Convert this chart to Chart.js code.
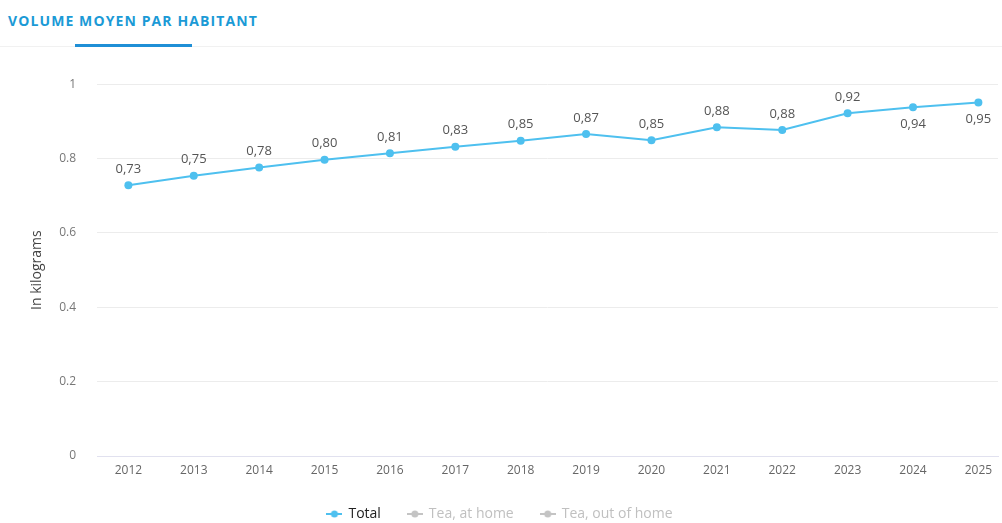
<!DOCTYPE html>
<html>
<head>
<meta charset="utf-8">
<script src="https://cdn.jsdelivr.net/npm/chart.js@4"></script>
<style>
  body { margin: 0; background: #fff; font-family: "Open Sans", sans-serif; }
  #wrap { position: relative; width: 1002px; height: 523px; overflow: hidden; }
  #title { position: absolute; left: 8px; top: 11px; font-size: 14px; font-weight: 700; color: #1b9ad6; letter-spacing: 1.1px; }
  #rule { position: absolute; left: 0; top: 46px; width: 1002px; height: 1px; background: #f1f1f1; }
  #tab { position: absolute; left: 75px; top: 44px; width: 117px; height: 3px; background: #1f8fd6; }
  #chartBox { position: absolute; left: 0; top: 56px; width: 1002px; height: 475px; }
</style>
</head>
<body>
<div id="wrap">
  <div id="title">VOLUME MOYEN PAR HABITANT</div>
  <div id="rule"></div>
  <div id="tab"></div>
  <div id="chartBox"><canvas id="chart"></canvas></div>
</div>
<script>
// Values
const years = [2012, 2013, 2014, 2015, 2016, 2017, 2018, 2019, 2020, 2021, 2022, 2023, 2024, 2025];
const totalValues = [0.73, 0.75, 0.78, 0.80, 0.81, 0.83, 0.85, 0.87, 0.85, 0.88, 0.88, 0.92, 0.94, 0.95];
const pointValues = [0.728, 0.754, 0.776, 0.797, 0.814, 0.832, 0.848, 0.866, 0.849, 0.884, 0.877, 0.922, 0.938, 0.951];
const labelBelow = [false, false, false, false, false, false, false, false, false, false, false, false, true, true];
const yTicks = [0, 0.2, 0.4, 0.6, 0.8, 1];
const legendNames = ["Total", "Tea, at home", "Tea, out of home"];

const mainBlue = "#4ec0ef";
const fadedGrey = "#c4c4c4";

function legendMarker(color) {
  const c = document.createElement("canvas");
  c.width = 16;
  c.height = 10;
  const ctx = c.getContext("2d");
  ctx.strokeStyle = color;
  ctx.lineWidth = 2;
  ctx.beginPath();
  ctx.moveTo(0, 5);
  ctx.lineTo(16, 5);
  ctx.stroke();
  ctx.fillStyle = color;
  ctx.beginPath();
  ctx.arc(8, 5, 3.5, 0, Math.PI * 2);
  ctx.fill();
  return c;
}

const valueLabels = {
  id: "valueLabels",
  afterDatasetsDraw(chart) {
    const ctx = chart.ctx;
    const meta = chart.getDatasetMeta(0);
    ctx.save();
    ctx.font = "13px 'Open Sans', sans-serif";
    ctx.fillStyle = "#555";
    ctx.textAlign = "center";
    ctx.textBaseline = "middle";
    meta.data.forEach((pt, i) => {
      const dy = labelBelow[i] ? 17 : -16;
      ctx.fillText(totalValues[i].toFixed(2).replace(".", ","), pt.x, pt.y + dy);
    });
    ctx.restore();
  },
};

new Chart(document.getElementById("chart"), {
  type: "line",
  data: {
    datasets: [
      {
        label: legendNames[0],
        data: years.map((y, i) => ({ x: y, y: pointValues[i] })),
        borderColor: mainBlue,
        backgroundColor: mainBlue,
        borderWidth: 2,
        pointRadius: 4,
        pointBackgroundColor: mainBlue,
        pointBorderWidth: 0,
        tension: 0,
      },
      { label: legendNames[1], data: [], hidden: true, borderColor: fadedGrey },
      { label: legendNames[2], data: [], hidden: true, borderColor: fadedGrey },
    ],
  },
  options: {
    responsive: true,
    maintainAspectRatio: false,
    animation: false,
    layout: { padding: { top: 23, right: 2, left: 0, bottom: 0 } },
    plugins: {
      tooltip: { enabled: false },
      legend: {
        position: "bottom",
        labels: {
          usePointStyle: true,
          padding: 27,
          generateLabels(chart) {
            return chart.data.datasets.map((ds, i) => ({
              text: ds.label,
              datasetIndex: i,
              hidden: false,
              pointStyle: legendMarker(i === 0 ? mainBlue : fadedGrey),
              fontColor: i === 0 ? "#222" : "#c0c0c0",
              strokeStyle: "transparent",
              fillStyle: "transparent",
            }));
          },
          font: { family: "'Open Sans', sans-serif", size: 14 },
        },
      },
    },
    scales: {
      x: {
        type: "linear",
        min: 2011.52,
        max: 2025.3,
        afterBuildTicks(scale) {
          scale.ticks = years.map((v) => ({ value: v }));
        },
        afterFit(scale) {
          scale.height = 24;
        },
        grid: { display: false, drawTicks: false },
        border: { display: true, color: "#e1e1ef", width: 1 },
        ticks: {
          color: "#666",
          padding: 7,
          font: { family: "'Open Sans', sans-serif", size: 12 },
          callback: (v) => String(v),
        },
      },
      y: {
        min: 0,
        max: 1,
        afterBuildTicks(scale) {
          scale.ticks = yTicks.map((v) => ({ value: v }));
        },
        afterFit(scale) {
          scale.width = 97;
        },
        grid: { color: "#ececec", drawTicks: false },
        border: { display: false },
        title: {
          display: true,
          text: "In kilograms",
          color: "#444",
          padding: { top: 29, bottom: 0 },
          font: { family: "'Open Sans', sans-serif", size: 14 },
        },
        ticks: {
          color: "#777",
          padding: 21,
          font: { family: "'Open Sans', sans-serif", size: 12 },
          callback: (v) => String(v),
        },
      },
    },
  },
  plugins: [valueLabels],
});
</script>
</body>
</html>
